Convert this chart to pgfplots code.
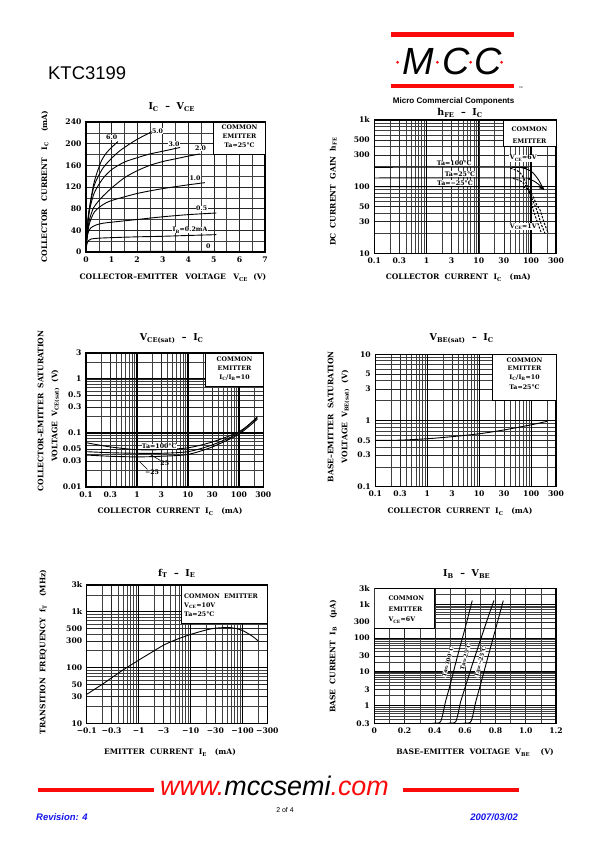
\documentclass[border=0pt]{standalone}
\usepackage{fontspec}
\setmainfont{DejaVu Serif}
\newfontfamily\arial{Liberation Sans}
\usepackage{pgfplots}
\pgfplotsset{compat=1.18}
\definecolor{mred}{RGB}{250,10,10}
\definecolor{mblue}{RGB}{20,20,235}
\newcommand{\tk}{\bfseries\fontsize{7.7}{8.5}\selectfont}
\newcommand{\lb}{\bfseries\fontsize{7.6}{9}\selectfont}
\newcommand{\bx}{\bfseries\fontsize{6.3}{7.6}\selectfont}
\newcommand{\ttl}{\bfseries\fontsize{9.5}{11}\selectfont}
\newcommand{\sub}[1]{\textsubscript{#1}}
\pgfplotsset{
  dsaxis/.style={scale only axis, anchor=south west,
    axis line style={line width=1.1bp},
    tick style={draw=none},
    grid=both,
    major grid style={black!85, line width=0.45bp},
    minor grid style={black!75, line width=0.45bp},
    tick label style={font=\tk},
    /pgf/number format/assume math mode=true,
    xticklabel style={yshift=-1bp},
    yticklabel style={xshift=-1bp},
  },
}
\tikzset{mycv/.style={black, line width=0.9bp, smooth, tension=0.45}}
\begin{document}
\begin{tikzpicture}
\useasboundingbox (0,0) rectangle (595bp,842bp);
\fill[white] (0,0) rectangle (595bp,842bp);

% ---------------- P1: Ic - Vce
\begin{axis}[dsaxis, at={(86bp,590bp)}, width=179bp, height=130bp,
  xmin=0, xmax=7, ymin=0, ymax=240,
  xtick={0,1,...,7}, minor xtick={0.5,1.5,...,6.5},
  ytick={0,40,...,240}, minor ytick={20,60,...,220}]
\draw[fill=white, line width=0.8bp] (axis cs:5,180) rectangle (axis cs:7,240);
\addplot[mycv] coordinates {(0,0)(0.05,0.8)(5.1,1.2)};
\addplot[mycv] coordinates {(0,0)(0.02,10)(0.05,17)(0.1,21)(0.2,24)(0.5,25.5)(1,26.5)(2,28)(3,29)(4,30.5)(5.1,32)};
\addplot[mycv] coordinates {(0,0)(0.02,15)(0.05,28)(0.1,38)(0.2,45)(0.4,50)(0.65,53)(1,55)(2,60)(3,65)(4,69)(5.1,72)};
\addplot[mycv] coordinates {(0,0)(0.03,22)(0.08,40)(0.15,55)(0.33,74)(0.65,87)(1,95)(2,108)(3,117)(4,124)(4.65,128)};
\addplot[mycv] coordinates {(0,0)(0.03,25)(0.08,45)(0.15,62)(0.3,82)(0.6,100)(1,118)(1.5,137)(2,150)(2.5,160)(3,167)(3.5,172)(4,177)(4.46,181)};
\addplot[mycv] coordinates {(0,0)(0.03,30)(0.08,55)(0.15,80)(0.33,110)(0.65,135)(1,152)(1.5,166)(2,174)(2.5,181)(3,186)(3.68,193)};
\addplot[mycv] coordinates {(0,0)(0.03,35)(0.08,60)(0.15,85)(0.33,124)(0.65,154)(1,173)(1.3,186)(1.6,196)(2,208)(2.57,222)};
\addplot[mycv] coordinates {(0,0)(0.02,20)(0.05,45)(0.1,70)(0.2,100)(0.3,125)(0.4,142)(0.6,168)(0.8,183)(1,193)(1.25,204)};
\end{axis}

% ---------------- P2: hFE - Ic
\begin{axis}[dsaxis, at={(374.3bp,588.7bp)}, width=181.7bp, height=133.3bp,
  xmode=log, xmin=0.1, xmax=300,
  xtick={0.1,0.3,1,3,10,30,100,300},
  minor xtick={0.2,0.4,0.5,0.6,0.7,0.8,0.9,2,4,5,6,7,8,9,20,40,50,60,70,80,90,200},
  ymode=log, ymin=10, ymax=1000,
  xticklabels={0.1,0.3,1,3,10,30,100,300},
  ytick={10,30,50,100,300,500,1000}, yticklabels={10,30,50,100,300,500,1k},
  minor ytick={20,40,60,70,80,90,200,400,600,700,800,900},
  extra x ticks={1,10,100}, extra x tick labels={},
  extra x tick style={grid=major, major grid style={black, line width=1.2bp}},
  extra y ticks={100}, extra y tick labels={},
  extra y tick style={grid=major, major grid style={black, line width=1.2bp}}]
\draw[fill=white, line width=0.8bp] (axis cs:29.4,400) rectangle (axis cs:300,1000);
\addplot[mycv] coordinates {(0.1,195)(50,195)(70,190)(90,178)(110,160)(140,125)(175,90)};
\addplot[mycv] coordinates {(0.1,135)(60,135)(90,130)(120,118)(150,103)(175,92)};
\addplot[mycv] coordinates {(0.1,100)(100,100)(150,95)(175,92)};
\addplot[mycv, dash pattern=on 2.2bp off 1.4bp, line width=1bp] coordinates {(40,190)(60,165)(80,115)(95,75)(110,45)(135,28)(158,20)};
\addplot[mycv, dash pattern=on 2.2bp off 1.4bp, line width=1bp] coordinates {(45,133)(65,120)(85,95)(105,65)(128,45)(155,28)(184,20)};
\addplot[mycv, dash pattern=on 2.2bp off 1.4bp, line width=1bp] coordinates {(70,100)(90,88)(110,70)(130,52)(148,45)(180,28)(214,20)};
\end{axis}

% ---------------- P3: Vce(sat) - Ic
\begin{axis}[dsaxis, at={(86bp,355bp)}, width=177.3bp, height=134bp,
  xmode=log, xmin=0.1, xmax=300,
  xtick={0.1,0.3,1,3,10,30,100,300},
  minor xtick={0.2,0.4,0.5,0.6,0.7,0.8,0.9,2,4,5,6,7,8,9,20,40,50,60,70,80,90,200},
  ymode=log, ymin=0.01, ymax=3,
  xticklabels={0.1,0.3,1,3,10,30,100,300},
  ytick={0.01,0.03,0.05,0.1,0.3,0.5,1,3}, yticklabels={0.01,0.03,0.05,0.1,0.3,0.5,1,3},
  minor ytick={0.02,0.04,0.06,0.07,0.08,0.09,0.2,0.4,0.6,0.7,0.8,0.9,2},
  extra x ticks={1,10,100}, extra x tick labels={},
  extra x tick style={grid=major, major grid style={black, line width=1.2bp}},
  extra y ticks={0.1,1}, extra y tick labels={},
  extra y tick style={grid=major, major grid style={black, line width=1.2bp}}]
\draw[fill=white, line width=0.8bp] (axis cs:21.5,0.72) rectangle (axis cs:300,3);
\addplot[mycv] coordinates {(0.1,0.066)(0.3,0.055)(1,0.049)(3,0.049)(10,0.053)(30,0.068)(100,0.105)(230,0.19)};
\addplot[mycv] coordinates {(0.1,0.045)(0.3,0.043)(1,0.042)(3,0.042)(10,0.045)(30,0.06)(100,0.1)(230,0.2)};
\addplot[mycv] coordinates {(0.1,0.039)(0.3,0.037)(1,0.036)(3,0.037)(10,0.04)(30,0.055)(100,0.095)(230,0.18)};
\end{axis}

% ---------------- P4: Vbe(sat) - Ic
\begin{axis}[dsaxis, at={(375.3bp,355.3bp)}, width=180.7bp, height=132.4bp,
  xmode=log, xmin=0.1, xmax=300,
  xtick={0.1,0.3,1,3,10,30,100,300},
  minor xtick={0.2,0.4,0.5,0.6,0.7,0.8,0.9,2,4,5,6,7,8,9,20,40,50,60,70,80,90,200},
  ymode=log, ymin=0.1, ymax=10,
  xticklabels={0.1,0.3,1,3,10,30,100,300},
  ytick={0.1,0.3,0.5,1,3,5,10}, yticklabels={0.1,0.3,0.5,1,3,5,10},
  minor ytick={0.2,0.4,0.6,0.7,0.8,0.9,2,4,6,7,8,9},
  extra x ticks={1,10,100}, extra x tick labels={},
  extra x tick style={grid=major, major grid style={black, line width=1.2bp}},
  extra y ticks={1}, extra y tick labels={},
  extra y tick style={grid=major, major grid style={black, line width=1.2bp}}]
\draw[fill=white, line width=0.8bp] (axis cs:18,2) rectangle (axis cs:300,10);
\addplot[mycv] coordinates {(0.1,0.5)(0.3,0.505)(1,0.53)(3,0.57)(10,0.63)(30,0.72)(100,0.86)(200,0.97)};
\end{axis}

% ---------------- P5: fT - IE
\begin{axis}[dsaxis, at={(86.7bp,118.7bp)}, width=180.6bp, height=138.3bp,
  xmode=log, xmin=0.1, xmax=300,
  xtick={0.1,0.3,1,3,10,30,100,300},
  minor xtick={0.2,0.4,0.5,0.6,0.7,0.8,0.9,2,4,5,6,7,8,9,20,40,50,60,70,80,90,200},
  ymode=log, ymin=10, ymax=3000,
  xticklabels={−0.1,−0.3,−1,−3,−10,−30,−100,−300},
  ytick={10,30,50,100,300,500,1000,3000}, yticklabels={10,30,50,100,300,500,1k,3k},
  minor ytick={20,40,60,70,80,90,200,400,600,700,800,900,2000},
  extra x ticks={1,10,100}, extra x tick labels={},
  extra x tick style={grid=major, major grid style={black, line width=1.2bp}},
  extra y ticks={100,1000}, extra y tick labels={},
  extra y tick style={grid=major, major grid style={black, line width=1.2bp}}]
\draw[fill=white, line width=0.8bp] (axis cs:6.8,617) rectangle (axis cs:300,3000);
\addplot[mycv] coordinates {(0.1,33)(0.2,50)(0.3,65)(0.5,90)(1,135)(2,200)(3,250)(5,310)(10,390)(20,470)(30,505)(50,520)(70,505)(100,460)(150,370)(200,300)};
\end{axis}

% ---------------- P6: IB - VBE
\begin{axis}[dsaxis, at={(374.3bp,118.7bp)}, width=181.7bp, height=135bp,
  xmin=0, xmax=1.2, ymode=log, ymin=0.3, ymax=3000,
  xtick={0,0.2,0.4,0.6,0.8,1.0,1.2}, xticklabels={0,0.2,0.4,0.6,0.8,1.0,1.2},
  minor xtick={0.1,0.3,0.5,0.7,0.9,1.1},
  ytick={0.3,1,3,10,30,100,300,1000,3000}, yticklabels={0.3,1,3,10,30,100,300,1k,3k},
  minor ytick={0.4,0.5,0.6,0.7,0.8,0.9,2,4,5,6,7,8,9,20,40,50,60,70,80,90,200,400,500,600,700,800,900,2000},
  extra y ticks={1,10,100,1000}, extra y tick labels={},
  extra y tick style={grid=major, major grid style={black, line width=1.2bp}}]
\draw[fill=white, line width=0.8bp] (axis cs:0,200) rectangle (axis cs:0.4,3000);
\addplot[mycv] coordinates {(0.38,0.3)(0.43,0.31)(0.44,0.35)(0.45,0.5)(0.46,0.8)(0.47,1.3)(0.5,4)(0.55,30)(0.6,200)(0.647,1300)};
\addplot[mycv] coordinates {(0.48,0.3)(0.53,0.31)(0.54,0.35)(0.55,0.5)(0.56,0.8)(0.57,1.3)(0.6,3.5)(0.65,18)(0.7,85)(0.75,400)(0.79,1300)};
\addplot[mycv] coordinates {(0.58,0.3)(0.63,0.31)(0.64,0.35)(0.65,0.5)(0.66,0.8)(0.67,1.3)(0.7,4)(0.75,27)(0.8,180)(0.852,1300)};
\end{axis}

% ================= annotations in page coordinates
\begin{scope}[shift={(0bp,842bp)}, x=1bp, y=-1bp]
% header
\node[anchor=base west, inner sep=0] at (48,80) {\arial\fontsize{18.5}{20}\selectfont KTC3199};
\fill[mred] (391,32.3) rectangle (514.3,36.9);
\fill[mred] (391,84) rectangle (514.3,88.4);
\node[anchor=base west, inner sep=0] at (402,74.3) {\arial\itshape\fontsize{38}{40}\selectfont M};
\node[anchor=base west, inner sep=0] at (442,74.3) {\arial\itshape\fontsize{38}{40}\selectfont C};
\node[anchor=base west, inner sep=0] at (474,74.3) {\arial\itshape\fontsize{38}{40}\selectfont C};
\foreach \xx in {397.7,437.3,470.7,501.7} {\fill[mred] (\xx,60.8) -- (\xx+1.5,62.3) -- (\xx,63.8) -- (\xx-1.5,62.3) -- cycle;}
\node[anchor=base west, inner sep=0] at (519,89) {\arial\fontsize{2.5}{3}\selectfont TM};
\node[anchor=base west, inner sep=0] at (392.7,104) {\arial\bfseries\fontsize{8.1}{9}\selectfont Micro Commercial Components};

% P1 texts
\node[anchor=center] at (171.7,106.7) {\ttl I\sub{C}\ \ –\ \ V\sub{CE}};
\node[rotate=90] at (45,186.7) {\lb COLLECTOR\quad CURRENT\quad I\sub{C}\quad\ (mA)};
\node at (173,277.7) {\lb COLLECTOR–EMITTER\quad VOLTAGE\quad V\sub{CE}\ \ (V)};
\node at (239.5,127.5) {\bx COMMON};
\node at (239.5,136.7) {\bx EMITTER};
\node at (239.5,145.5) {\bx Ta=25°C};
\node[fill=white, inner sep=0.4bp] at (111.7,137.7) {\bx 6.0};
\node[fill=white, inner sep=0.4bp] at (157.5,131) {\bx 5.0};
\node[fill=white, inner sep=0.4bp] at (174,144) {\bx 3.0};
\node[fill=white, inner sep=0.4bp] at (200.5,148.3) {\bx 2.0};
\node[fill=white, inner sep=0.4bp] at (195,178.5) {\bx 1.0};
\node[fill=white, inner sep=0.4bp] at (201.7,208.5) {\bx 0.5};
\node[fill=white, inner sep=0.4bp] at (190,230.2) {\bx I\sub{B}=0.2mA};
\node[fill=white, inner sep=0.4bp] at (208.3,246.2) {\bx 0};

% P2 texts
\node at (460,113.3) {\ttl h\sub{FE}\ \ –\ \ I\sub{C}};
\node[rotate=90] at (333.3,191.7) {\lb DC\ \ CURRENT\ \ GAIN\ \ h\sub{FE}};
\node at (458.3,277.7) {\lb COLLECTOR\ \ CURRENT\ \ I\sub{C}\ \ \ (mA)};
\node at (529.5,129.3) {\bx COMMON};
\node at (529.5,141) {\bx EMITTER};
\node[fill=white, inner sep=0.5bp, anchor=south] at (454.3,166.6) {\bx Ta=100°C};
\node[fill=white, inner sep=0.5bp, anchor=south] at (460,177.3) {\bx Ta=25°C};
\node[fill=white, inner sep=0.5bp, anchor=south] at (455,186.2) {\bx Ta=−25°C};
\node[fill=white, inner sep=0.6bp] at (523.3,158.3) {\bx V\sub{CE}=6V};
\node[fill=white, inner sep=0.6bp] at (523.3,226.7) {\bx V\sub{CE}=1V};

% P3 texts
\node at (171.7,339) {\ttl V\sub{CE(sat)}\ \ –\ \ I\sub{C}};
\node[rotate=90] at (40.5,411) {\lb COLLECTOR–EMITTER\ \ SATURATION};
\node[rotate=90] at (55.5,415.7) {\lb VOLTAGE\ \ V\sub{CE(sat)}\ \ (V)};
\node at (170,511.7) {\lb COLLECTOR\ \ CURRENT\ \ I\sub{C}\ \ \ (mA)};
\node at (234.5,359.5) {\bx COMMON};
\node at (234.5,368) {\bx EMITTER};
\node at (234.5,377.7) {\bx I\sub{C}/I\sub{B}=10};
\node[fill=white, inner sep=0.4bp] at (159.3,446.7) {\bx Ta=100°C};
\draw[line width=0.6bp] (151,455) -- (160.5,460.5);
\node[inner sep=0.3bp] at (164.8,463) {\bx 25};
\draw[line width=0.6bp] (139.5,461.5) -- (147.5,469.5);
\node[inner sep=0.3bp] at (152,472) {\bx −25};

% P4 texts
\node at (461.7,339) {\ttl V\sub{BE(sat)}\ \ –\ \ I\sub{C}};
\node[rotate=90] at (330.5,416.7) {\lb BASE–EMITTER\ \ SATURATION};
\node[rotate=90] at (345.5,416.7) {\lb VOLTAGE\ \ V\sub{BE(sat)}\ \ (V)};
\node at (460,511.7) {\lb COLLECTOR\ \ CURRENT\ \ I\sub{C}\ \ \ (mA)};
\node at (524.5,359.8) {\bx COMMON};
\node at (524.5,368.5) {\bx EMITTER};
\node at (524.5,377.7) {\bx I\sub{C}/I\sub{B}=10};
\node at (524.5,386.8) {\bx Ta=25°C};

% P5 texts
\node at (176.7,573.3) {\ttl f\sub{T}\ \ –\ \ I\sub{E}};
\node[rotate=90] at (43.3,652) {\lb TRANSITION\ \ FREQUENCY\ \ f\sub{T}\ \ \ (MHz)};
\node at (170,752.7) {\lb EMITTER\ \ CURRENT\ \ I\sub{E}\ \ \ (mA)};
\node[anchor=west, inner sep=0] at (184,596.7) {\bx COMMON\ \ EMITTER};
\node[anchor=west, inner sep=0] at (184,605.5) {\bx V\sub{CE}=10V};
\node[anchor=west, inner sep=0] at (184,614.5) {\bx Ta=25°C};

% P6 texts
\node at (466.7,574) {\ttl I\sub{B}\ \ –\ \ V\sub{BE}};
\node[rotate=90] at (333.3,656.7) {\lb BASE\ \ CURRENT\ \ I\sub{B}\ \ \ (μA)};
\node at (475,752.7) {\lb BASE–EMITTER\ \ VOLTAGE\ \ V\sub{BE}\ \ \ \ (V)};
\node[anchor=west, inner sep=0] at (388.3,598.3) {\bx COMMON};
\node[anchor=west, inner sep=0] at (388.3,609.3) {\bx EMITTER};
\node[anchor=west, inner sep=0] at (388.3,620.3) {\bx V\sub{CE}=6V};
\node[rotate=75, fill=white, inner sep=0.3bp] at (447.8,662) {\fontsize{5.6}{6.5}\bfseries\selectfont Ta=100°C};
\node[rotate=75, fill=white, inner sep=0.3bp] at (465.5,656.7) {\fontsize{5.6}{6.5}\bfseries\selectfont Ta=25°C};
\node[rotate=75, fill=white, inner sep=0.3bp] at (480.3,661.7) {\fontsize{5.6}{6.5}\bfseries\selectfont Ta=−25°C};

% footer
\fill[mred] (38.3,787.7) rectangle (154,792.3);
\fill[mred] (402.7,787.7) rectangle (519,792.3);
\node[anchor=base west, inner sep=0] at (160,795.7) {\arial\itshape\fontsize{27}{28}\selectfont\textcolor{mred}{www.}mccsemi\textcolor{mred}{.com}};
\node[anchor=base, inner sep=0] at (285,813) {\arial\fontsize{7}{8}\selectfont 2 of 4};
\node[anchor=base west, inner sep=0] at (36,820.7) {\arial\bfseries\itshape\fontsize{9.5}{10}\selectfont\textcolor{mblue}{Revision: 4}};
\node[anchor=base east, inner sep=0] at (518,820.7) {\arial\bfseries\itshape\fontsize{9.5}{10}\selectfont\textcolor{mblue}{2007/03/02}};
\end{scope}
\end{tikzpicture}
\end{document}
